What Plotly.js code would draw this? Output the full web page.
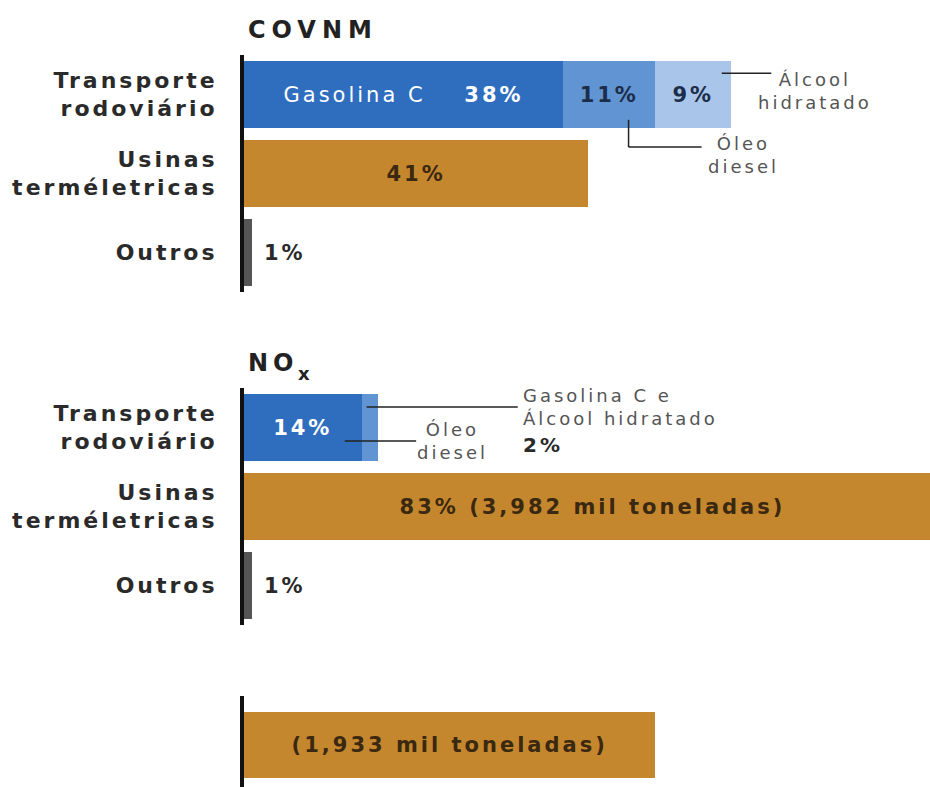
<!DOCTYPE html>
<html>
<head>
<meta charset="utf-8">
<script src="https://cdn.plot.ly/plotly-3.0.1.min.js"></script>
<style>
  html, body { margin: 0; padding: 0; background: #ffffff; }
  svg text { letter-spacing: 3px; }
</style>
</head>
<body>
<div id="chart" style="width:930px;height:787px;"></div>
<script>
// ---------- DATA ----------
const categories = ['Transporte<br>rodoviário', 'Usinas<br>terméletricas', 'Outros'];

// COVNM
const covnmRoadSeries = ['Gasolina C', 'Óleo diesel', 'Álcool hidratado'];
const covnmRoadValues = [38, 11, 9];
const covnmPlantValue = [41];
const covnmOtherValue = [1];

// NOx
const noxRoadSeries = ['Óleo diesel', 'Gasolina C e Álcool hidratado'];
const noxRoadValues = [14, 2];
const noxPlantValue = [83];
const noxPlantTonnes = '3,982 mil toneladas';
const noxOtherValue = [1];

// Bottom total bar
const totalValue = [49];
const totalLabel = '(1,933 mil toneladas)';

// ---------- STYLE ----------
const C_BLUE1 = '#2f6ebf';
const C_BLUE2 = '#6194d2';
const C_BLUE3 = '#a9c5e9';
const C_ORANGE = '#c4872e';
const C_GRAY = '#555555';
const C_TEXT = '#2a2a2a';
const C_NAVY = '#1c2d4a';
const C_BROWN = '#3a2810';
const FONT = 'DejaVu Sans, Verdana, sans-serif';
const NB = '\u00a0';

function pct(v) { return '<b>' + v + '%</b>'; }

function bar(xa, ya, y, x, color, text, tcolor) {
  const t = {
    type: 'bar', orientation: 'h', xaxis: xa, yaxis: ya,
    y: y, x: x,
    textposition: 'inside', insidetextanchor: 'middle',
    constraintext: 'none', cliponaxis: true,
    textfont: {family: FONT, size: 21, color: tcolor},
    insidetextfont: {family: FONT, size: 21, color: tcolor},
    marker: {color: color, line: {width: 0}},
    hoverinfo: 'skip', showlegend: false
  };
  if (text) { t.text = text; t.texttemplate = '%{text}'; }
  else { t.textposition = 'none'; }
  return t;
}

const traces = [
  // COVNM
  bar('x', 'y', [categories[0]], [covnmRoadValues[0]], C_BLUE1,
      [covnmRoadSeries[0] + NB + NB + NB + NB + pct(covnmRoadValues[0])], '#ffffff'),
  bar('x', 'y', [categories[0]], [covnmRoadValues[1]], C_BLUE2, [pct(covnmRoadValues[1])], C_NAVY),
  bar('x', 'y', [categories[0]], [covnmRoadValues[2]], C_BLUE3, [pct(covnmRoadValues[2])], C_NAVY),
  bar('x', 'y', [categories[1]], covnmPlantValue, C_ORANGE, [pct(covnmPlantValue[0])], C_BROWN),
  bar('x', 'y', [categories[2]], covnmOtherValue, C_GRAY, null, C_TEXT),
  // NOx
  bar('x2', 'y2', [categories[0]], [noxRoadValues[0]], C_BLUE1, [pct(noxRoadValues[0])], '#ffffff'),
  bar('x2', 'y2', [categories[0]], [noxRoadValues[1]], C_BLUE2, null, C_NAVY),
  bar('x2', 'y2', [categories[1]], noxPlantValue, C_ORANGE,
      ['<b>' + noxPlantValue[0] + '% (' + noxPlantTonnes + ')</b>'], C_BROWN),
  bar('x2', 'y2', [categories[2]], noxOtherValue, C_GRAY, null, C_TEXT),
  // bottom
  bar('x3', 'y3', ['total'], totalValue, C_ORANGE, ['<b>' + totalLabel + '</b>'], C_BROWN)
];

const H = 787, W = 930;
const xDomain = [244 / W, 1];
const xRange = [0, 81.7];
function xax(anchor) {
  return {domain: xDomain, range: xRange, visible: false, anchor: anchor, fixedrange: true};
}
function yax(domain, range, showLabels, anchor) {
  return {
    domain: domain, range: range, type: 'category', anchor: anchor,
    showline: true, linecolor: '#111111', linewidth: 4,
    showgrid: false, zeroline: false, ticks: '',
    showticklabels: showLabels, ticklabelstandoff: 18,
    tickfont: {family: FONT, size: 22, color: C_TEXT, weight: 'bold'},
    fixedrange: true
  };
}

const yaxis1 = yax([1 - 292 / H, 1 - 55 / H], [2.5, -0.5], true, 'x');
const yaxis2 = yax([1 - 625 / H, 1 - 388 / H], [2.5, -0.5], true, 'x2');
const yaxis3 = yax([0, 1 - 696 / H], [0.535, -0.624], false, 'x3');

const lineStyle = {color: '#222222', width: 1.5};
function seg(xr, yr, x0, y0, x1, y1) {
  return {type: 'line', xref: xr, yref: yr, x0: x0, y0: y0, x1: x1, y1: y1, line: lineStyle, layer: 'above'};
}

const covnmRoadEnd = covnmRoadValues.reduce((a, b) => a + b, 0);
const shapes = [
  // COVNM: Álcool hidratado leader
  seg('x', 'y', covnmRoadEnd - 1.1, -0.27, 62.8, -0.27),
  // COVNM: Óleo diesel elbow leader
  seg('x', 'y', 45.8, 0.32, 45.8, 0.665),
  seg('x', 'y', 45.8, 0.665, 54.5, 0.665),
  // NOx: Gasolina C e Álcool leader
  seg('x2', 'y2', 14.6, -0.26, 32.6, -0.26),
  // NOx: Óleo diesel leader
  seg('x2', 'y2', 12.0, 0.17, 20.5, 0.17)
];

const labelFont = {family: FONT, size: 18, color: '#555555'};
const valueFont = {family: FONT, size: 21, color: C_TEXT};
const titleFont = {family: FONT, size: 24, color: '#222222'};
const annotations = [
  {xref: 'paper', yref: 'paper', x: 246 / W, y: 1 - 14 / H, xanchor: 'left', yanchor: 'top',
   text: '<b><span style="letter-spacing:6px">COVNM</span></b>', showarrow: false, font: titleFont},
  {xref: 'paper', yref: 'paper', x: 246 / W, y: 1 - 347 / H, xanchor: 'left', yanchor: 'top',
   text: '<b><span style="letter-spacing:5px">NO</span></b>', showarrow: false, font: titleFont},
  {xref: 'paper', yref: 'paper', x: 296 / W, y: 1 - 361 / H, xanchor: 'left', yanchor: 'top',
   text: '<b>x</b>', showarrow: false, font: {family: FONT, size: 18, color: '#222222'}},
  // Outros values, placed just right of their bars
  {xref: 'x', yref: 'y', x: covnmOtherValue[0], y: categories[2], xanchor: 'left', yanchor: 'middle',
   xshift: 10, text: pct(covnmOtherValue[0]), showarrow: false, font: valueFont},
  {xref: 'x2', yref: 'y2', x: noxOtherValue[0], y: categories[2], xanchor: 'left', yanchor: 'middle',
   xshift: 10, text: pct(noxOtherValue[0]), showarrow: false, font: valueFont},
  // leader labels
  {xref: 'x', yref: 'y', x: 68.0, y: -0.05, xanchor: 'center', yanchor: 'middle',
   text: 'Álcool<br>hidratado', showarrow: false, font: labelFont, align: 'center'},
  {xref: 'x', yref: 'y', x: 59.5, y: 0.766, xanchor: 'center', yanchor: 'middle',
   text: 'Óleo<br>diesel', showarrow: false, font: labelFont, align: 'center'},
  {xref: 'x2', yref: 'y2', x: 33.0, y: -0.26, xanchor: 'left', yanchor: 'middle',
   text: 'Gasolina C e<br>Álcool hidratado', showarrow: false, font: labelFont, align: 'left'},
  {xref: 'x2', yref: 'y2', x: 33.0, y: 0.22, xanchor: 'left', yanchor: 'middle',
   text: '<b>' + noxRoadValues[1] + '%</b>', showarrow: false,
   font: {family: FONT, size: 20, color: C_TEXT}, align: 'left'},
  {xref: 'x2', yref: 'y2', x: 24.8, y: 0.165, xanchor: 'center', yanchor: 'middle',
   text: 'Óleo<br>diesel', showarrow: false, font: labelFont, align: 'center'}
];

const layout = {
  width: W, height: H,
  margin: {l: 0, r: 0, t: 0, b: 0, pad: 0},
  paper_bgcolor: '#ffffff', plot_bgcolor: 'rgba(0,0,0,0)',
  barmode: 'stack', bargap: 0.16,
  showlegend: false,
  font: {family: FONT, color: C_TEXT},
  xaxis: xax('y'), xaxis2: xax('y2'), xaxis3: xax('y3'),
  yaxis: yaxis1, yaxis2: yaxis2, yaxis3: yaxis3,
  shapes: shapes, annotations: annotations
};

Plotly.newPlot('chart', traces, layout, {staticPlot: true, displayModeBar: false});
</script>
</body>
</html>
